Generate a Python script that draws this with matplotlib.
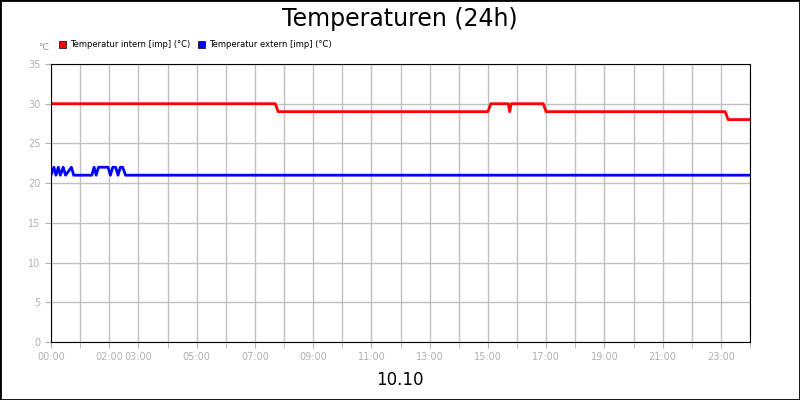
import matplotlib.pyplot as plt
from matplotlib.patches import Rectangle

# hours since 00:00
intern_t = [0, 7.7, 7.8, 15.0, 15.1, 15.7, 15.75, 15.8, 16.9, 17.0, 23.15, 23.25, 24]
intern_v = [30, 30, 29, 29, 30, 30, 29, 30, 30, 29, 29, 28, 28]

extern_t = [0, 0.1, 0.17, 0.25, 0.32, 0.42, 0.5, 0.7, 0.78, 0.86, 1.4, 1.48, 1.55, 1.63, 1.96,
            2.04, 2.12, 2.22, 2.3, 2.38, 2.46, 2.56, 24]
extern_v = [21, 22, 21, 22, 21, 22, 21, 22, 21, 21, 21, 22, 21, 22, 22,
            21, 22, 22, 21, 22, 22, 21, 21]

tick_hours = [0, 2, 3, 5, 7, 9, 11, 13, 15, 17, 19, 21, 23]
tick_labels = [f"{h:02d}:00" for h in tick_hours]

fig = plt.figure(figsize=(8, 4), dpi=100)
fig.patches.append(Rectangle((0, 0), 1, 1, transform=fig.transFigure, fill=False,
                             edgecolor="black", linewidth=2))
ax = fig.add_axes([51/800, 58/400, 699/800, 278/400])

ax.plot(intern_t, intern_v, color="#ff0000", linewidth=2)
ax.plot(extern_t, extern_v, color="#0000ff", linewidth=2)

ax.set_xlim(0, 24)
ax.set_ylim(0, 35)
ax.set_xticks(range(25), minor=True)
ax.set_xticks(tick_hours)
ax.set_xticklabels(tick_labels)
ax.set_yticks(range(0, 36, 5))
ax.grid(True, which="both", axis="x", color="#c0c0c0", linewidth=1)
ax.grid(True, axis="y", color="#c0c0c0", linewidth=1)
ax.tick_params(which="both", colors="#b0b0b0", labelcolor="#b0b0b0", labelsize=7, length=4)
for s in ax.spines.values():
    s.set_color("black")

fig.text(0.5, 0.952, "Temperaturen (24h)", ha="center", va="center", fontsize=17)
fig.text(0.5, 0.05, "10.10", ha="center", va="center", fontsize=12)
fig.text(38/800, 353/400, "°C", fontsize=6.5, color="#909090", va="center")

# legend
for x0, col, lab in [(59, "#ff0000", "Temperatur intern [imp] (°C)"),
                     (198, "#0000ff", "Temperatur extern [imp] (°C)")]:
    fig.patches.append(Rectangle((x0/800, 352/400), 7/800, 7/400, transform=fig.transFigure,
                                 facecolor=col, edgecolor="black", linewidth=0.5))
    fig.text((x0 + 11)/800, 355.5/400, lab, fontsize=6, va="center")

fig.savefig("out.png")
